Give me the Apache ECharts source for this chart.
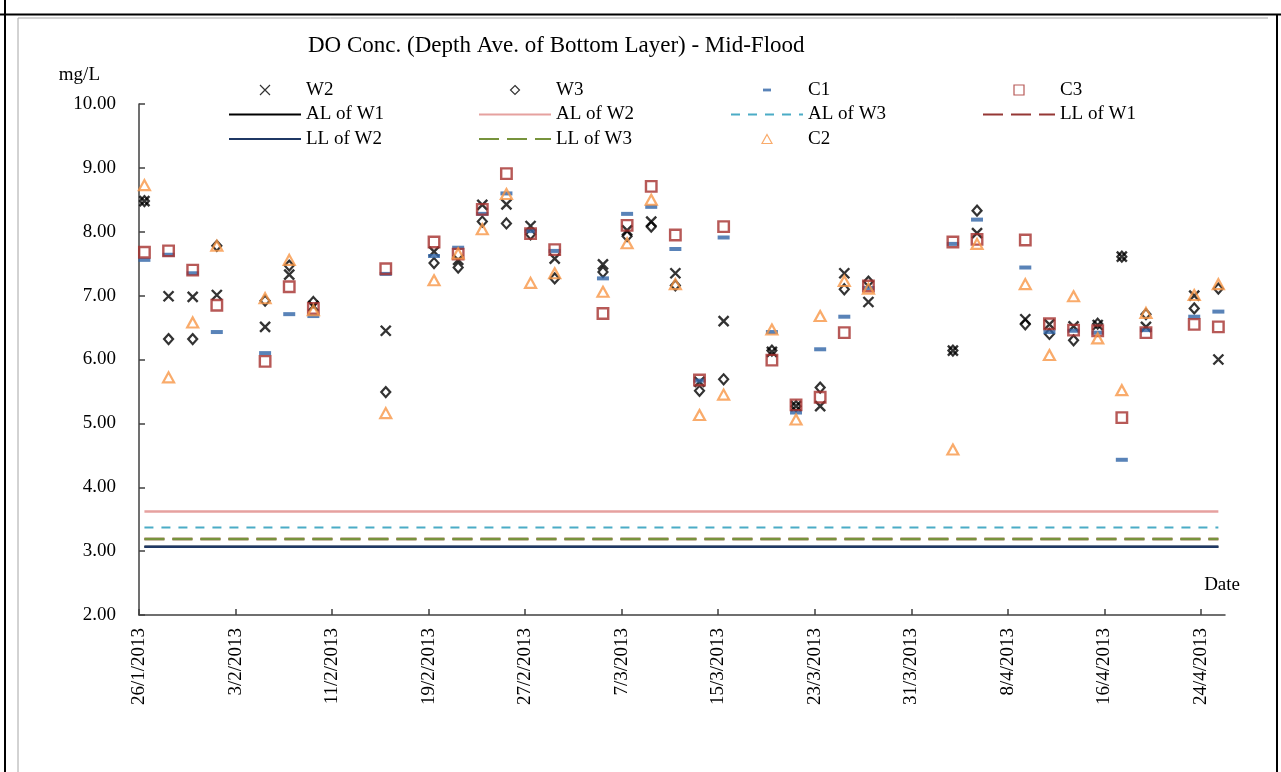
<!DOCTYPE html>
<html>
<head>
<meta charset="utf-8">
<title>DO Conc. (Depth Ave. of Bottom Layer) - Mid-Flood</title>
<script src="https://cdn.jsdelivr.net/npm/echarts@6/dist/echarts.min.js"></script>
<style>
  html, body { margin: 0; padding: 0; background: #ffffff; }
  #chart { width: 1281px; height: 772px; }
</style>
</head>
<body>
<div id="chart"></div>
<script>
// ---- Monitoring data (mg/L) ----
const sampleDates = [
  '26/1/2013', '28/1/2013', '30/1/2013', '1/2/2013', '5/2/2013', '7/2/2013', '9/2/2013',
  '15/2/2013', '19/2/2013', '21/2/2013', '23/2/2013', '25/2/2013', '27/2/2013', '1/3/2013',
  '5/3/2013', '7/3/2013', '9/3/2013', '11/3/2013', '13/3/2013', '15/3/2013', '19/3/2013',
  '21/3/2013', '23/3/2013', '25/3/2013', '27/3/2013', '3/4/2013', '5/4/2013', '9/4/2013',
  '11/4/2013', '13/4/2013', '15/4/2013', '17/4/2013', '19/4/2013', '23/4/2013', '25/4/2013'
];

const W2 = [8.48, 6.99, 6.98, 7.01, 6.51, 7.33, 6.84, 6.45, 7.69, 7.56, 8.42, 8.43, 8.09, 7.58,
            7.49, 8.02, 8.16, 7.35, 5.65, 6.60, 6.12, 5.27, 5.27, 7.35, 6.90, 6.14, 7.98, 6.63,
            6.55, 6.52, 6.54, 7.61, 6.51, 7.00, 6.00];
const W3 = [8.48, 6.32, 6.32, 7.78, 6.92, 7.47, 6.90, 5.49, 7.51, 7.44, 8.16, 8.13, 7.96, 7.27,
            7.37, 7.93, 8.08, 7.16, 5.51, 5.69, 6.14, 5.27, 5.56, 7.10, 7.22, 6.14, 8.33, 6.55,
            6.40, 6.30, 6.56, 7.61, 6.71, 6.80, 7.11];
const C1 = [7.56, 7.64, 7.35, 6.43, 6.10, 6.71, 6.68, 7.34, 7.62, 7.75, 8.28, 8.60, 8.01, 7.70,
            7.27, 8.28, 8.39, 7.73, 5.67, 7.91, 6.43, 5.17, 6.16, 6.67, 7.12, 7.81, 8.19, 7.44,
            6.43, 6.45, 6.42, 4.43, 6.46, 6.67, 6.75];
const C3 = [7.68, 7.70, 7.40, 6.85, 5.97, 7.14, 6.80, 7.42, 7.84, 7.65, 8.35, 8.91, 7.97, 7.72,
            6.72, 8.10, 8.71, 7.95, 5.68, 8.08, 5.99, 5.29, 5.41, 6.42, 7.15, 7.84, 7.88, 7.87,
            6.56, 6.46, 6.45, 5.09, 6.42, 6.55, 6.51];
const C2 = [8.73, 5.72, 6.58, 7.78, 6.96, 7.56, 6.77, 5.16, 7.24, 7.66, 8.04, 8.59, 7.20, 7.35,
            7.06, 7.82, 8.50, 7.18, 5.13, 5.45, 6.47, 5.06, 6.68, 7.23, 7.11, 4.59, 7.81, 7.18,
            6.07, 6.99, 6.33, 5.52, 6.73, 7.01, 7.18];

// Action / Limit Levels (mg/L)
const levelNames  = ['AL of W1', 'AL of W2', 'AL of W3', 'LL of W1', 'LL of W2', 'LL of W3'];
const levelValues = [3.07, 3.62, 3.37, 3.19, 3.07, 3.19];

// Axis ticks
const xTickDates = ['26/1/2013', '3/2/2013', '11/2/2013', '19/2/2013', '27/2/2013', '7/3/2013',
                    '15/3/2013', '23/3/2013', '31/3/2013', '8/4/2013', '16/4/2013', '24/4/2013'];
const xAxisEnd = '26/4/2013';
const yTicks = [2, 3, 4, 5, 6, 7, 8, 9, 10];

// ---- Helpers ----
const SERIF = "'Liberation Serif', 'Times New Roman', serif";
const ORIGIN = Date.UTC(2013, 0, 26);
const DAY = 86400000;
function dayOf(s) {
  const [d, m, y] = s.split('/').map(Number);
  return Math.round((Date.UTC(y, m - 1, d) - ORIGIN) / DAY);
}
// samples sit in the middle of their day band on the date axis
const POINT_SHIFT = 0.45;

const xTickDays = xTickDates.map(dayOf);
const tickLabelByDay = {};
xTickDates.forEach((s, i) => { tickLabelByDay[xTickDays[i]] = s; });

const pts = vals => sampleDates.map((s, i) => [dayOf(s) + POINT_SHIFT, vals[i]]);
const firstX = dayOf(sampleDates[0]) + POINT_SHIFT;
const lastX = dayOf(sampleDates[sampleDates.length - 1]) + POINT_SHIFT;

const HOLLOW = 'rgba(0,0,0,0)';
const CROSS = 'path://M0,0L10,10M10,0L0,10';

// Legend keys (square boxes so the marker keeps its shape inside the wide key)
const ICONS = {
  W2: 'path://M0,0L10,10M10,0L0,10',
  W3: 'path://M0,0M10,10M5,0.5L9.5,5L5,9.5L0.5,5Z',
  C1: 'path://M0,0M10,10M1,3.6h8v2.8h-8z',
  C3: 'path://M0,0h10v10h-10z',
  C2: 'path://M0,0M10,10M5,0.5L10,9.5L0,9.5Z'
};

const scatterStyle = {
  W2: { symbol: CROSS, symbolSize: 10, itemStyle: { color: HOLLOW, borderColor: '#000000', borderWidth: 2.4 } },
  W3: { symbol: 'diamond', symbolSize: [9, 10], itemStyle: { color: HOLLOW, borderColor: '#000000', borderWidth: 2.2 } },
  C1: { symbol: 'rect', symbolSize: [12, 4], itemStyle: { color: '#2f64a6', borderWidth: 0 } },
  C3: { symbol: 'rect', symbolSize: 10.5, itemStyle: { color: HOLLOW, borderColor: '#a5302d', borderWidth: 2.4 } },
  C2: { symbol: 'triangle', symbolSize: [11, 10], itemStyle: { color: HOLLOW, borderColor: '#f79646', borderWidth: 2.2 } }
};
const scatterData = { W2, W3, C1, C3, C2 };

const levelStyle = {
  'AL of W1': { color: '#000000', width: 2, type: 'solid' },
  'AL of W2': { color: '#e6a19f', width: 2.5, type: 'solid' },
  'AL of W3': { color: '#4bacc6', width: 2.2, type: [9, 8] },
  'LL of W1': { color: '#953735', width: 2.5, type: [20, 8] },
  'LL of W2': { color: '#1f3864', width: 2.5, type: 'solid' },
  'LL of W3': { color: '#77933c', width: 2.5, type: [20, 8] }
};

function scatterSeries(name) {
  const st = scatterStyle[name];
  return {
    name, type: 'scatter',
    data: pts(scatterData[name]),
    symbol: st.symbol, symbolSize: st.symbolSize,
    itemStyle: st.itemStyle,
    emphasis: { disabled: true },
    z: 3
  };
}
function levelSeries(name) {
  const v = levelValues[levelNames.indexOf(name)];
  const ls = levelStyle[name];
  return {
    name, type: 'line',
    data: [[firstX, v], [lastX, v]],
    symbol: 'none',
    lineStyle: { color: ls.color, width: ls.width, type: ls.type, cap: 'butt' },
    itemStyle: { color: ls.color },
    emphasis: { disabled: true },
    silent: true,
    z: 2
  };
}

// Series order follows the legend order; C2 is drawn last
const series = [
  scatterSeries('W2'), scatterSeries('W3'), scatterSeries('C1'), scatterSeries('C3'),
  levelSeries('AL of W1'), levelSeries('AL of W2'), levelSeries('AL of W3'),
  levelSeries('LL of W1'), levelSeries('LL of W2'), levelSeries('LL of W3'),
  scatterSeries('C2')
];

// ---- Legend: four columns, three rows ----
const legendBase = {
  orient: 'vertical', top: 80, padding: 0,
  itemWidth: 72, itemHeight: 10, itemGap: 4.5,
  textStyle: { fontFamily: SERIF, fontSize: 19, color: '#000000', lineHeight: 20 },
  itemStyle: { borderWidth: 1.2 },
  selectedMode: false
};
const mark = name => ({ name, icon: ICONS[name] });
const lineItem = name => ({ name, itemStyle: { opacity: 0 } });

const legend = [
  Object.assign({}, legendBase, { left: 228, data: [mark('W2'), lineItem('AL of W1'), lineItem('LL of W2')] }),
  Object.assign({}, legendBase, { left: 478, data: [mark('W3'), lineItem('AL of W2'), lineItem('LL of W3')] }),
  Object.assign({}, legendBase, { left: 730, data: [mark('C1'), lineItem('AL of W3'), mark('C2')] }),
  Object.assign({}, legendBase, { left: 982, data: [mark('C3'), lineItem('LL of W1')] })
];

const AXIS_COLOR = '#404040';

const option = {
  backgroundColor: '#ffffff',
  animation: false,
  title: {
    text: 'DO Conc. (Depth Ave. of Bottom Layer) - Mid-Flood',
    left: 303, top: 29, padding: 5,
    textStyle: { fontFamily: SERIF, fontSize: 23, fontWeight: 'normal', color: '#000000' }
  },
  legend,
  grid: { left: 139, right: 56, top: 104, bottom: 157, outerBoundsMode: 'none' },
  xAxis: {
    type: 'value',
    min: 0, max: dayOf(xAxisEnd), interval: 8,
    name: 'Date', nameLocation: 'end', nameGap: 15,
    nameTextStyle: { fontFamily: SERIF, fontSize: 19, color: '#000000', align: 'right', verticalAlign: 'bottom', padding: [0, 0, 20, 0] },
    axisLine: { show: true, onZero: false, lineStyle: { color: AXIS_COLOR, width: 1.5 } },
    axisTick: { show: true, inside: true, length: 6, customValues: xTickDays, lineStyle: { color: AXIS_COLOR, width: 1.5 } },
    axisLabel: {
      rotate: 90, margin: 13, customValues: xTickDays,
      fontFamily: SERIF, fontSize: 19, color: '#000000',
      formatter: v => tickLabelByDay[Math.round(v)] || ''
    },
    splitLine: { show: false }
  },
  yAxis: {
    type: 'value',
    min: yTicks[0], max: yTicks[yTicks.length - 1], interval: 1,
    name: 'mg/L', nameLocation: 'end', nameGap: 29,
    nameTextStyle: { fontFamily: SERIF, fontSize: 19, color: '#000000', align: 'right', verticalAlign: 'middle', padding: [0, 39, 0, 0] },
    axisLine: { show: true, lineStyle: { color: AXIS_COLOR, width: 1.5 } },
    axisTick: { show: true, inside: true, length: 6, lineStyle: { color: AXIS_COLOR, width: 1.5 } },
    axisLabel: { margin: 23, fontFamily: SERIF, fontSize: 19, color: '#000000', formatter: v => v.toFixed(2) },
    splitLine: { show: false }
  },
  series,
  graphic: [
    // outer frame
    { type: 'line', shape: { x1: 0, y1: 14.5, x2: 1281, y2: 14.5 }, style: { stroke: '#000000', lineWidth: 2 }, silent: true },
    { type: 'line', shape: { x1: 5, y1: 0, x2: 5, y2: 772 }, style: { stroke: '#000000', lineWidth: 2 }, silent: true },
    { type: 'line', shape: { x1: 1277, y1: 14, x2: 1277, y2: 772 }, style: { stroke: '#000000', lineWidth: 2 }, silent: true },
    // chart area border
    { type: 'line', shape: { x1: 18, y1: 18, x2: 1268, y2: 18 }, style: { stroke: '#a6a6a6', lineWidth: 1 }, silent: true },
    { type: 'line', shape: { x1: 18, y1: 18, x2: 18, y2: 772 }, style: { stroke: '#a6a6a6', lineWidth: 1 }, silent: true }
  ]
};

const chart = echarts.init(document.getElementById('chart'), null, { renderer: 'canvas' });
chart.setOption(option);
</script>
</body>
</html>
